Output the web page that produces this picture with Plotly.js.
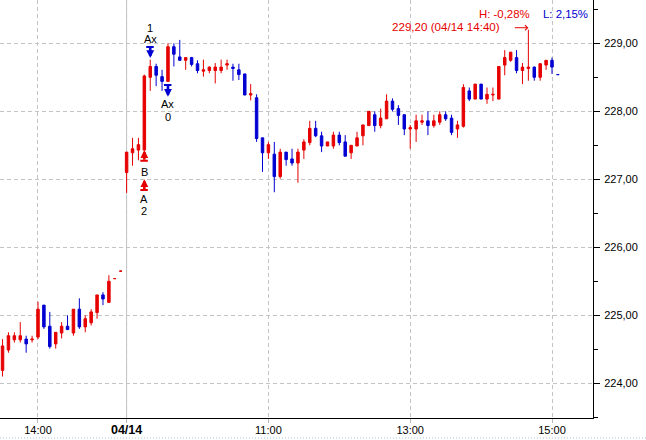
<!DOCTYPE html>
<html><head><meta charset="utf-8">
<script src="https://cdn.plot.ly/plotly-3.0.1.min.js"></script>
<style>html,body{margin:0;padding:0;background:#fff;}#chart{width:646px;height:440px;}</style>
</head><body><div id="chart"></div>
<script>
const times = [
'04/13 13:30','04/13 13:35','04/13 13:40','04/13 13:45','04/13 13:50','04/13 13:55',
'04/13 14:00','04/13 14:05','04/13 14:10','04/13 14:15','04/13 14:20','04/13 14:25',
'04/13 14:30','04/13 14:35','04/13 14:40','04/13 14:45','04/13 14:50','04/13 14:55',
'04/13 15:00','04/13 15:05','04/13 15:10',
'04/14 09:00','04/14 09:05','04/14 09:10','04/14 09:15','04/14 09:20','04/14 09:25',
'04/14 09:30','04/14 09:35','04/14 09:40','04/14 09:45','04/14 09:50','04/14 09:55',
'04/14 10:00','04/14 10:05','04/14 10:10','04/14 10:15','04/14 10:20','04/14 10:25',
'04/14 10:30','04/14 10:35','04/14 10:40','04/14 10:45','04/14 10:50','04/14 10:55',
'04/14 11:00','04/14 11:05','04/14 11:10','04/14 11:15','04/14 11:20','04/14 11:25',
'04/14 11:30','04/14 11:35','04/14 11:40','04/14 11:45','04/14 11:50','04/14 11:55',
'04/14 12:00','04/14 12:05','04/14 12:10','04/14 12:15','04/14 12:20','04/14 12:25',
'04/14 12:30','04/14 12:35','04/14 12:40','04/14 12:45','04/14 12:50','04/14 12:55',
'04/14 13:00','04/14 13:05','04/14 13:10','04/14 13:15','04/14 13:20','04/14 13:25',
'04/14 13:30','04/14 13:35','04/14 13:40','04/14 13:45','04/14 13:50','04/14 13:55',
'04/14 14:00','04/14 14:05','04/14 14:10','04/14 14:15','04/14 14:20','04/14 14:25',
'04/14 14:30','04/14 14:35','04/14 14:40','04/14 14:45','04/14 14:50','04/14 14:55',
'04/14 15:00','04/14 15:05'
];
const open = [
224.19,224.49,224.64,224.64,224.65,224.64,224.68,225.15,224.84,224.58,
224.74,224.84,224.74,225.09,224.83,224.89,225.04,225.30,225.19,225.54,
225.65,
227.10,227.39,227.43,227.43,228.50,228.66,228.51,228.44,228.95,228.80,
228.75,228.79,228.70,228.59,228.60,228.60,228.60,228.68,228.65,228.61,
228.55,228.24,228.20,227.61,227.39,227.37,227.04,227.40,227.30,227.24,
227.43,227.54,227.75,227.64,227.49,227.49,227.65,227.55,227.39,227.49,
227.64,227.79,227.95,227.79,227.89,228.15,228.04,227.95,227.74,227.74,
227.84,227.86,227.79,227.84,227.95,227.90,227.74,227.78,228.30,228.18,
228.40,228.18,228.24,228.18,228.68,228.75,228.79,228.60,228.63,228.65,
228.50,228.68,228.75,228.54
];
const high = [
224.65,224.75,224.75,224.90,224.70,224.70,225.20,225.15,225.05,224.75,
224.90,225.00,225.09,225.25,225.00,225.09,225.30,225.34,225.59,225.54,
225.65,
227.40,227.61,227.61,228.54,228.76,228.70,228.61,229.00,229.00,229.05,
228.79,228.80,228.75,228.76,228.66,228.71,228.76,228.76,228.70,228.70,
228.55,228.40,228.25,227.61,227.55,227.55,227.45,227.40,227.45,227.45,
227.59,227.86,227.86,227.70,227.55,227.70,227.70,227.65,227.50,227.70,
227.80,228.00,228.00,228.04,228.25,228.19,228.09,227.95,227.80,227.95,
227.95,228.00,227.95,228.00,228.00,227.95,227.86,228.40,228.35,228.40,
228.40,228.35,228.35,228.66,228.90,228.87,228.90,228.71,229.20,228.66,
228.71,228.75,228.79,228.54
];
const low = [
224.10,224.45,224.60,224.60,224.45,224.60,224.65,224.80,224.51,224.51,
224.66,224.79,224.70,224.80,224.75,224.85,224.95,225.15,225.19,225.54,
225.65,
226.80,227.20,227.28,227.43,228.30,228.37,228.30,228.44,228.66,228.75,
228.61,228.66,228.56,228.51,228.56,228.41,228.56,228.61,228.45,228.46,
228.24,228.16,227.55,227.11,227.30,226.81,227.01,227.20,227.20,226.95,
227.30,227.50,227.62,227.40,227.49,227.45,227.50,227.34,227.30,227.49,
227.50,227.79,227.70,227.75,227.89,228.00,227.80,227.65,227.45,227.55,
227.80,227.65,227.76,227.80,227.86,227.65,227.61,227.76,228.15,228.18,
228.18,228.11,228.15,228.18,228.53,228.73,228.56,228.40,228.45,228.45,
228.45,228.61,228.55,228.54
];
const close = [
224.55,224.70,224.70,224.70,224.58,224.65,225.09,224.83,224.54,224.75,
224.84,224.79,225.09,224.83,224.95,225.05,225.30,225.24,225.50,225.54,
225.65,
227.40,227.45,227.51,228.52,228.66,228.53,228.44,228.95,228.84,228.75,
228.79,228.69,228.60,228.61,228.65,228.65,228.65,228.70,228.63,228.54,
228.24,228.26,227.60,227.39,227.51,227.04,227.40,227.29,227.24,227.40,
227.55,227.75,227.64,227.49,227.55,227.65,227.54,227.34,227.50,227.61,
227.80,228.00,227.79,227.90,228.15,228.03,227.94,227.74,227.76,227.86,
227.86,227.79,227.86,227.95,227.89,227.69,227.80,228.35,228.18,228.40,
228.18,228.25,228.25,228.66,228.79,228.87,228.60,228.65,228.65,228.50,
228.70,228.75,228.65,228.54
];
const tickVals = ['04/13 14:00','04/14 09:00','04/14 11:00','04/14 13:00','04/14 15:00'];
const tickText = ['14:00','<span style="font-size:12.5px;font-weight:bold">04/14</span>','11:00','13:00','15:00'];
const yTicks = [224,225,226,227,228,229];
const sessionStart = '04/14 09:00';
const summaryLabels = ['H: -0,28%', 'L: 2,15%'];
const buySignal = {idx: 24, labels: ['B', 'A', '2']};
const sellSignalA = {idx: 25, labels: ['1', 'Ax']};
const sellSignalB = {idx: 28, labels: ['Ax', '0']};

const RED = '#e60000', BLUE = '#0000d2', GRID = '#c4c4c4';
const hiIdx = high.indexOf(Math.max.apply(null, high));
const fmt = v => v.toFixed(2).replace('.', ',');

function label(i, yv, text, dy) {
  return {x: i, y: yv, text: text, showarrow: false, yshift: dy, xanchor: 'center', yanchor: 'middle',
          font: {size: 11, color: '#000'}};
}
function arrowPair(i, yv, tipShift, ay, color) {
  return [
    {x: i, y: yv, text: ' ', font: {size: 1}, borderpad: 0, showarrow: true, ax: 0, ay: ay,
     yshift: tipShift, arrowhead: 2, arrowwidth: 2.6, arrowsize: 0.6, arrowcolor: color, standoff: 0},
    {x: i, y: yv, text: ' ', font: {size: 1}, borderpad: 0, showarrow: true, ax: 8, ay: 0,
     xshift: -4, yshift: tipShift - ay, arrowhead: 0, arrowwidth: 2, arrowcolor: color, standoff: 0}
  ];
}

const annotations = [];
annotations.push(...arrowPair(sellSignalA.idx, high[sellSignalA.idx], 1.7, -11, BLUE));
annotations.push(label(sellSignalA.idx, high[sellSignalA.idx], sellSignalA.labels[0], 31.7));
annotations.push(label(sellSignalA.idx, high[sellSignalA.idx], sellSignalA.labels[1], 21));
annotations.push(...arrowPair(sellSignalB.idx, low[sellSignalB.idx], -15.3, -11.7, BLUE));
annotations.push(label(sellSignalB.idx, low[sellSignalB.idx], sellSignalB.labels[0], -22.9));
annotations.push(label(sellSignalB.idx, low[sellSignalB.idx], sellSignalB.labels[1], -35.3));
annotations.push(...arrowPair(buySignal.idx, low[buySignal.idx], 0, 10.7, RED));
annotations.push(label(buySignal.idx, low[buySignal.idx], buySignal.labels[0], -21.6));
annotations.push(...arrowPair(buySignal.idx, low[buySignal.idx], -29.2, 10.7, RED));
annotations.push(label(buySignal.idx, low[buySignal.idx], buySignal.labels[1], -49.2));
annotations.push(label(buySignal.idx, low[buySignal.idx], buySignal.labels[2], -60.9));
annotations.push({x: hiIdx, y: high[hiIdx], text: fmt(high[hiIdx]) + ' (' + times[hiIdx] + ')',
  showarrow: false, xanchor: 'right', yanchor: 'middle', xshift: -26, yshift: 3.6,
  font: {size: 11.6, color: RED}});
annotations.push({x: hiIdx, y: high[hiIdx], text: ' ', font: {size: 1}, borderpad: 0, showarrow: true,
  ax: -14, ay: 0, yshift: 2, arrowhead: 4, arrowwidth: 1, arrowsize: 1, arrowcolor: RED, standoff: 0});
annotations.push({xref: 'paper', yref: 'paper', x: 531.7 / 593, y: 1 - 14 / 418, xanchor: 'right', yanchor: 'middle',
  text: summaryLabels[0], showarrow: false, font: {size: 11.4, color: RED}});
annotations.push({xref: 'paper', yref: 'paper', x: 589.5 / 593, y: 1 - 14 / 418, xanchor: 'right', yanchor: 'middle',
  text: summaryLabels[1], showarrow: false, font: {size: 11.4, color: BLUE}});

const trace = {
  type: 'candlestick', x: times, open: open, high: high, low: low, close: close,
  increasing: {line: {color: RED, width: 1}, fillcolor: RED},
  decreasing: {line: {color: BLUE, width: 1}, fillcolor: BLUE},
  whiskerwidth: 0, hoverinfo: 'skip', showlegend: false
};

const sIdx = times.indexOf(sessionStart);
const layout = {
  width: 646, height: 440,
  margin: {l: 0, r: 53, t: 0, b: 22, pad: 0},
  paper_bgcolor: '#fff', plot_bgcolor: '#fff',
  font: {family: 'Liberation Sans, Arial, sans-serif', size: 11, color: '#000'},
  separators: ',.',
  showlegend: false,
  boxgap: 0.58, boxgroupgap: 0,
  xaxis: {
    type: 'category', range: [-0.43, 99.94], autorange: false,
    rangeslider: {visible: false},
    tickmode: 'array', tickvals: tickVals, ticktext: tickText,
    showgrid: true, gridcolor: GRID, griddash: '4px,3px', gridwidth: 1,
    showline: true, linecolor: '#000', linewidth: 1,
    ticks: 'outside', ticklen: 4, tickcolor: '#b8b8b8', ticklabelstandoff: -2,
    tickfont: {size: 11, color: '#000'}, zeroline: false, fixedrange: true
  },
  yaxis: {
    side: 'right', range: [223.49, 229.637], autorange: false,
    tickmode: 'array', tickvals: yTicks, tickformat: '.2f',
    showgrid: true, gridcolor: GRID, griddash: '4px,3px', gridwidth: 1,
    showline: true, linecolor: '#000', linewidth: 1,
    ticks: 'outside', ticklen: 6, tickcolor: '#000', ticklabelstandoff: 2,
    minor: {tickmode: 'linear', tick0: 223.5, dtick: 0.5, ticks: 'outside', ticklen: 4, tickcolor: '#000', showgrid: false},
    tickfont: {size: 11, color: '#000'}, zeroline: false, fixedrange: true
  },
  shapes: [
    {type: 'line', xref: 'x', yref: 'paper', x0: sIdx, x1: sIdx, y0: 0, y1: 1,
     line: {color: GRID, width: 1}, layer: 'below'},
    {type: 'line', xref: 'paper', yref: 'paper', x0: 0, x1: 646 / 593, y0: -20 / 418, y1: -20 / 418,
     line: {color: '#a9c6e6', width: 1, dash: '1px,2px'}}
  ],
  annotations: annotations
};

Plotly.newPlot('chart', [trace], layout, {staticPlot: true, displayModeBar: false});
</script>
</body></html>
